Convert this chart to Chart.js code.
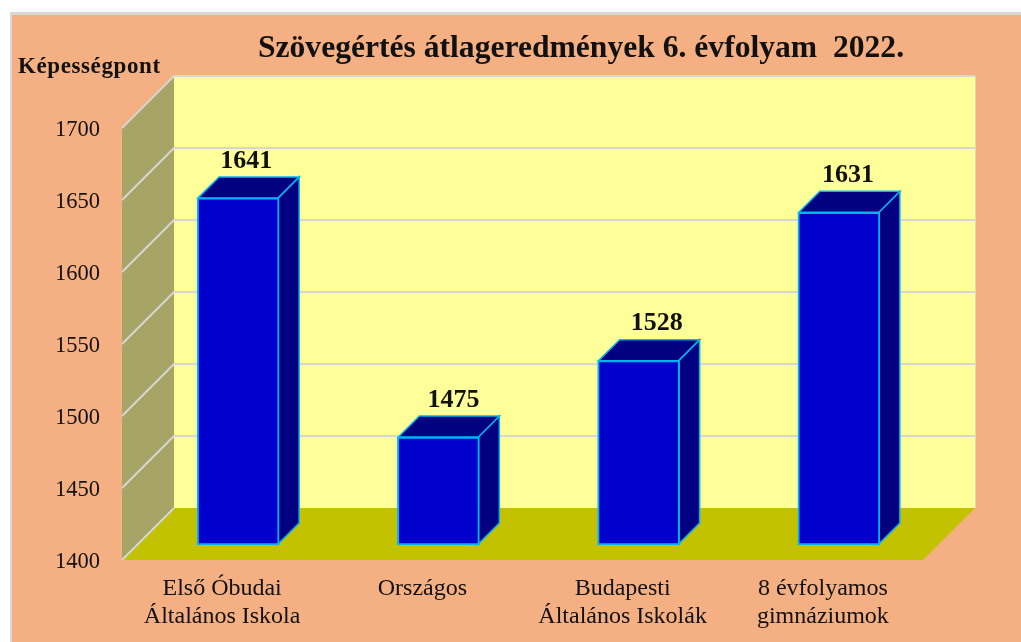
<!DOCTYPE html>
<html>
<head>
<meta charset="utf-8">
<style>
html,body{margin:0;padding:0;background:#fff;overflow:hidden}
canvas{display:block}
</style>
<script src="https://cdn.jsdelivr.net/npm/chart.js@4/dist/chart.umd.min.js"></script>
</head>
<body>
<div style="width:1021px;height:642px;position:relative"><canvas id="c" width="1021" height="642"></canvas></div>
<script>
const categories = [["Első Óbudai","Általános Iskola"],"Országos",["Budapesti","Általános Iskolák"],["8 évfolyamos","gimnáziumok"]];
const values = [1641,1475,1528,1631];
const chartTitle = "Szövegértés átlageredmények 6. évfolyam  2022.";
const yAxisTitle = "Képességpont";
const yMin = 1400, yMax = 1700, yStep = 50;

const labelShiftX = [8,15,18,9];
const SERIF = '"Liberation Serif","Times New Roman",serif';
const WALL = 52, BAR_OFF = 16, BAR_D = 21;
const C = {panel:'#F4AF82',frame:'#D9D9D9',wall:'#FFFF99',side:'#A6A566',floor:'#C2C200',grid:'#D6D6D6',
  front:'#0000CC',dark:'#000080',edge:'#00B4F0',text:'#111'};

function poly(ctx,pts,fill,stroke,lw){
  ctx.beginPath();pts.forEach((p,i)=>i?ctx.lineTo(p[0],p[1]):ctx.moveTo(p[0],p[1]));ctx.closePath();
  if(fill){ctx.fillStyle=fill;ctx.fill();}
  if(stroke){ctx.strokeStyle=stroke;ctx.lineWidth=lw;ctx.lineJoin='miter';ctx.stroke();}
}
const scene = {
  id:'scene',
  afterLayout(chart){
    const t=chart.titleBlock; if(t){t.left=257;t.right=905;t.width=648;}
    const y=chart.scales.y;
    if(!y.$shifted){
      const orig=y.drawLabels;
      y.drawLabels=function(a){const c=this.ctx;c.save();c.translate(0,2);orig.call(this,a);c.restore();};
      y.$shifted=true;
    }
  },
  beforeDraw(chart){
    const {ctx,chartArea:a,scales:{y}}=chart;
    ctx.save();
    ctx.fillStyle='#fff';ctx.fillRect(0,0,chart.width,chart.height);
    ctx.fillStyle=C.frame;ctx.fillRect(10,12,chart.width,chart.height);
    ctx.fillStyle=C.panel;ctx.fillRect(12,15,chart.width,chart.height);
    const l=a.left,r=a.right,b=a.bottom,t=a.top,d=WALL;
    poly(ctx,[[l+d,t-d],[r+d,t-d],[r+d,b-d],[l+d,b-d]],C.wall);
    poly(ctx,[[l,t],[l+d,t-d],[l+d,b-d],[l,b]],C.side);
    poly(ctx,[[l,b],[l+d,b-d],[r+d,b-d],[r,b]],C.floor);
    ctx.strokeStyle=C.grid;ctx.lineWidth=2;
    for(let v=yMin;v<=yMax;v+=yStep){
      const p=y.getPixelForValue(v);
      ctx.beginPath();ctx.moveTo(l,p);ctx.lineTo(l+d,p-d);
      if(v>yMin)ctx.lineTo(r+d,p-d);
      ctx.stroke();
    }
    ctx.lineWidth=1;ctx.strokeStyle='#DDDDAA';
    ctx.beginPath();ctx.moveTo(r+d+.5,t-d);ctx.lineTo(r+d+.5,b-d);ctx.stroke();
    ctx.restore();
  },
  afterDraw(chart){
    const {ctx}=chart;
    ctx.save();
    ctx.fillStyle=C.text;ctx.textAlign='left';ctx.textBaseline='middle';
    ctx.font='bold 23px '+SERIF;
    ctx.letterSpacing='0.6px';
    ctx.fillText(yAxisTitle,18,67);
    ctx.restore();
  },
  beforeDatasetDraw(chart){
    const {ctx}=chart, meta=chart.getDatasetMeta(0);
    ctx.save();
    meta.data.forEach(bar=>{
      const lft=bar.x-bar.width/2+BAR_OFF+1, rgt=bar.x+bar.width/2+BAR_OFF-1,
            top=bar.y-BAR_OFF+1, bot=bar.base-BAR_OFF, D=BAR_D;
      poly(ctx,[[rgt,top],[rgt+D,top-D],[rgt+D,bot-D],[rgt,bot]],C.dark,C.edge,1.5);
      poly(ctx,[[lft,top],[lft+D,top-D],[rgt+D,top-D],[rgt,top]],C.dark,C.edge,1.5);
    });
    ctx.restore();
    ctx.save();ctx.translate(BAR_OFF,-BAR_OFF+1);
  },
  afterDatasetDraw(chart){
    const {ctx}=chart, meta=chart.getDatasetMeta(0);
    ctx.restore();
    ctx.save();
    ctx.fillStyle=C.text;ctx.textAlign='center';ctx.textBaseline='middle';
    ctx.font='bold 26px '+SERIF;
    meta.data.forEach((bar,i)=>{
      ctx.fillText(String(values[i]),bar.x+BAR_OFF+labelShiftX[i],bar.y-BAR_OFF-BAR_D-15);
    });
    ctx.restore();
  }
};
new Chart(document.getElementById('c'),{
  type:'bar',
  data:{labels:categories,datasets:[{data:values,base:yMin,backgroundColor:C.front,borderColor:C.edge,borderWidth:2,
    barThickness:82,clip:false,borderSkipped:false}]},
  plugins:[scene],
  options:{
    responsive:false,animation:false,
    layout:{padding:{left:0,right:98,top:0,bottom:0}},
    plugins:{
      legend:{display:false},tooltip:{enabled:false},
      title:{display:true,text:chartTitle,color:C.text,align:'center',
        font:{family:SERIF,size:31.6,weight:'bold',lineHeight:1.2},padding:{top:30,bottom:60}}
    },
    scales:{
      x:{grid:{display:false,drawTicks:false},border:{display:false},
        ticks:{color:C.text,font:{family:SERIF,size:24,lineHeight:1.2},padding:14,maxRotation:0,autoSkip:false},
        afterFit(s){s.height=82;}},
      y:{min:yMin,max:yMax,grid:{display:false,drawTicks:false},border:{display:false},
        ticks:{stepSize:yStep,color:C.text,font:{family:SERIF,size:22.5},padding:22,callback:v=>String(v)},
        afterFit(s){s.width=122;}}
    }
  }
});
</script>
</body>
</html>
